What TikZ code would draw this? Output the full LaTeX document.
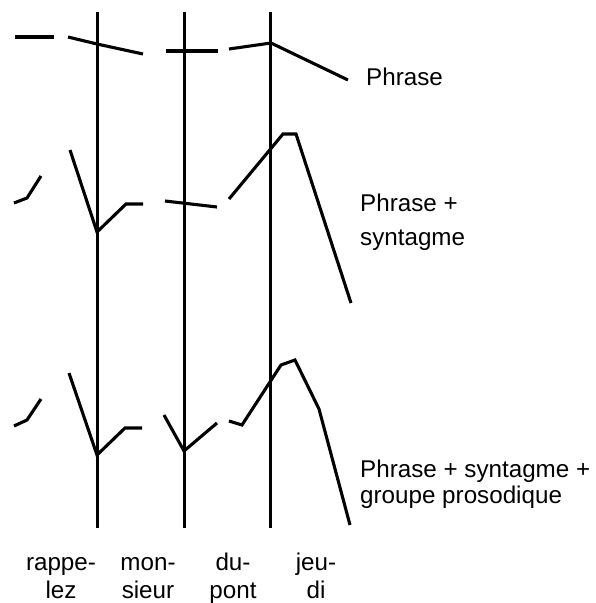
\documentclass[tikz,border=0pt]{standalone}
\usepackage{fontspec}
\setmainfont{Liberation Sans}
\begin{document}
\begin{tikzpicture}[x=1pt,y=-1pt,
  contour/.style={line width=3.1pt,line join=miter,line cap=butt},
  bar/.style={line width=3pt},
  lab/.style={inner sep=0pt,align=left,anchor=base west},
  word/.style={font=\fontsize{24.2}{28}\selectfont,inner sep=0pt,align=center,anchor=base}]
\useasboundingbox (0,0) rectangle (596,603);
% vertical syllable bars
\coordinate (t1) at (97,12); \coordinate (b1) at (97,528);
\coordinate (t2) at (184,12); \coordinate (b2) at (184,528);
\coordinate (t3) at (270,12); \coordinate (b3) at (270,528);
\draw[bar] (t1) -- (b1);
\draw[bar] (t2) -- (b2);
\draw[bar] (t3) -- (b3);
% row 1: Phrase
\draw[contour] (15,37) -- (54,37);
\draw[contour] (68,37) -- (97,44) -- (143,54);
\draw[contour] (166,51) -- (218,51);
\draw[contour] (229,49) -- (271,43) -- (348,80);
% row 2: Phrase + syntagme
\draw[contour] (14,203) -- (27,198) -- (41,176);
\draw[contour] (70,150) -- (97,232) -- (126,204) -- (143,204);
\draw[contour] (165,201) -- (217,207);
\draw[contour] (229,199) -- (283,134) -- (296,134) -- (351,303);
% row 3: Phrase + syntagme + groupe prosodique
\draw[contour] (14,426) -- (27,420) -- (41,399);
\draw[contour] (69,373) -- (97,455) -- (125,428) -- (142,428);
\draw[contour] (164,415) -- (184,451) -- (217,423);
\draw[contour] (229,421) -- (242,425) -- (281,365) -- (295,360) -- (319,409) -- (350,525);
% labels (base anchor = baseline of last line)
\node[lab,font=\fontsize{24.2}{34}\selectfont] (l1) at (366,85) {Phrase};
\node[lab,font=\fontsize{24.2}{34}\selectfont] (l2) at (360,245) {Phrase +\\syntagme};
\node[lab,font=\fontsize{24.2}{26}\selectfont] (l3) at (360,503) {Phrase + syntagme +\\groupe prosodique};
% words
\node[word] (w1) at (61,598) {rappe-\\lez};
\node[word] (w2) at (148,598) {mon-\\sieur};
\node[word] (w3) at (233,598) {du-\\pont};
\node[word] (w4) at (316,598) {jeu-\\di};
\end{tikzpicture}
\end{document}
